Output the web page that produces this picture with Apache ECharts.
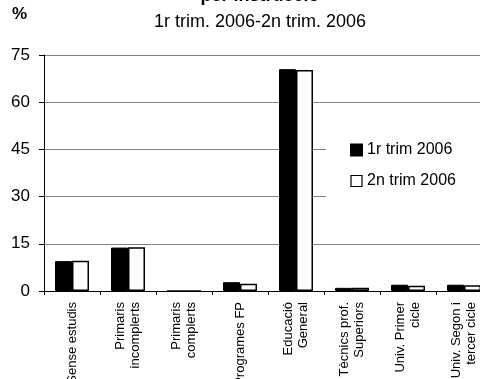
<!DOCTYPE html>
<html><head><meta charset="utf-8">
<script src="https://cdn.jsdelivr.net/npm/echarts@6/dist/echarts.min.js"></script>
<style>html,body{margin:0;padding:0;background:#fff}#c{width:480px;height:379px}</style>
</head><body><div id="c"></div>
<script>
var categories = ["Sense estudis","Primaris\nincomplerts","Primaris\ncomplerts","Programes FP","Educació\nGeneral","Tècnics prof.\nSuperiors","Univ. Primer\ncicle","Univ. Segon i\ntercer cicle"];
var trim1 = [9.5, 13.8, 0, 2.8, 70.5, 1.0, 2.0, 2.0];
var trim2 = [9.6, 13.9, 0, 2.3, 70.2, 1.0, 1.7, 1.8];
var seriesNames = ["1r trim 2006","2n trim 2006"];
var yTicks = {min:0, max:75, interval:15};
var titleText = "per instrucció";
var subtitleText = "1r trim. 2006-2n trim. 2006";
var unitText = "%";

var ff = "'Liberation Sans', Arial, sans-serif";
var chart = echarts.init(document.getElementById('c'), null, {renderer:'canvas'});
chart.setOption({
  animation:false,
  backgroundColor:'#fff',
  textStyle:{fontFamily:ff},
  title:[
    {text:titleText, left:260, textAlign:'center', top:-13, padding:0, textStyle:{fontFamily:ff, fontSize:18, fontWeight:'bold', color:'#000'}},
    {text:subtitleText, left:260, textAlign:'center', top:13, padding:0, textStyle:{fontFamily:ff, fontSize:18, fontWeight:'normal', color:'#000'}},
    {text:unitText, left:12, top:6, padding:0, textStyle:{fontFamily:ff, fontSize:17, fontWeight:'bold', color:'#000'}}
  ],
  legend:{
    orient:'vertical', left:326, top:120,
    padding:[22,30,20,24],
    backgroundColor:'#fff',
    itemWidth:11, itemHeight:11, itemGap:15,
    textStyle:{fontFamily:ff, fontSize:16, color:'#000'},
    data:[
      {name:seriesNames[0], icon:'rect', itemStyle:{color:'#000'}},
      {name:seriesNames[1], icon:'rect', itemStyle:{color:'#fff', borderColor:'#000', borderWidth:1.2}}
    ]
  },
  grid:{left:44, top:55, bottom:88, width:448, containLabel:false, outerBoundsMode:'none'},
  xAxis:{
    type:'category', data:categories,
    axisLine:{lineStyle:{color:'#000', width:1}},
    axisTick:{show:true, length:4, alignWithLabel:false, lineStyle:{color:'#000'}},
    axisLabel:{rotate:90, interval:0, fontFamily:ff, fontSize:13, lineHeight:15, color:'#000', margin:11}
  },
  yAxis:{
    type:'value', min:yTicks.min, max:yTicks.max, interval:yTicks.interval,
    axisLine:{show:true, lineStyle:{color:'#000', width:1}},
    axisTick:{show:true, length:5, lineStyle:{color:'#000'}},
    axisLabel:{fontFamily:ff, fontSize:17, color:'#000', margin:14},
    splitLine:{show:true, lineStyle:{color:'#808080', width:1}}
  },
  series:[
    {name:seriesNames[0], type:'bar', data:trim1, barWidth:17, barGap:'0%',
     itemStyle:{color:'#000', borderColor:'#000', borderWidth:1}},
    {name:seriesNames[1], type:'bar', data:trim2, barWidth:17, barGap:'0%',
     itemStyle:{color:'#fff', borderColor:'#000', borderWidth:1.5}}
  ]
});
</script>
</body></html>
